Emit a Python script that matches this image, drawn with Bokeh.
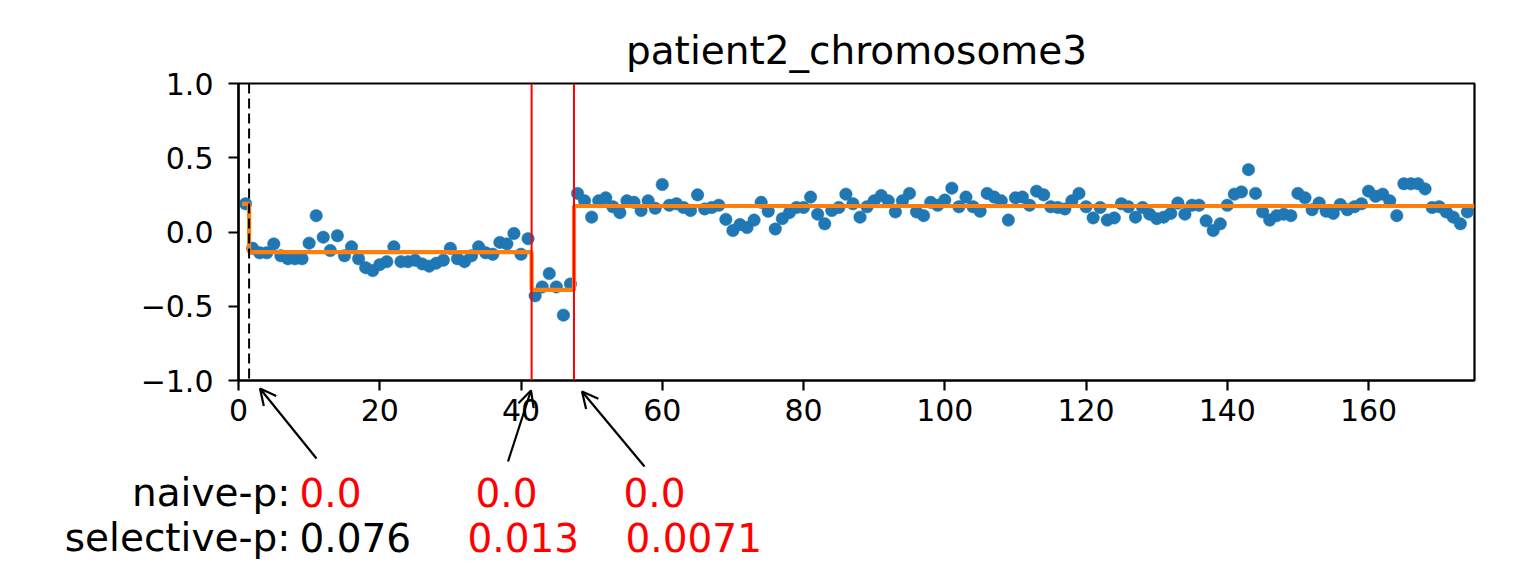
import numpy as np
from bokeh.plotting import figure
from bokeh.layouts import column
from bokeh.models import Label, Arrow, OpenHead, FixedTicker, CustomJSTickFormatter, Range1d, Span
from bokeh.embed import file_html
from bokeh.resources import INLINE

# ---------------- data ----------------
title_text = "patient2_chromosome3"
positions = list(range(1, 175))
log_ratio = [
    0.19, -0.11, -0.14, -0.14, -0.08, -0.16, -0.18, -0.18, -0.18, -0.075,
    0.11, -0.035, -0.125, -0.025, -0.16, -0.10, -0.18, -0.24, -0.26, -0.22,
    -0.20, -0.10, -0.20, -0.20, -0.19, -0.215, -0.23, -0.21, -0.19, -0.11,
    -0.18, -0.20, -0.16, -0.10, -0.14, -0.15, -0.07, -0.08, -0.01, -0.15,
    -0.045, -0.43, -0.37, -0.28, -0.37, -0.56, -0.35, 0.26, 0.21, 0.10,
    0.21, 0.23, 0.17, 0.13, 0.21, 0.20, 0.145, 0.21, 0.16, 0.32,
    0.18, 0.19, 0.165, 0.145, 0.25, 0.155, 0.165, 0.18, 0.085, 0.01,
    0.05, 0.03, 0.08, 0.20, 0.14, 0.02, 0.09, 0.13, 0.165, 0.165,
    0.235, 0.12, 0.055, 0.145, 0.165, 0.255, 0.19, 0.10, 0.17, 0.21,
    0.245, 0.21, 0.135, 0.21, 0.26, 0.135, 0.11, 0.20, 0.18, 0.215,
    0.295, 0.17, 0.235, 0.17, 0.14, 0.26, 0.235, 0.21, 0.08, 0.23,
    0.235, 0.18, 0.275, 0.25, 0.17, 0.165, 0.155, 0.21, 0.26, 0.17,
    0.095, 0.165, 0.08, 0.095, 0.19, 0.17, 0.10, 0.165, 0.12, 0.09,
    0.10, 0.125, 0.195, 0.12, 0.18, 0.18, 0.075, 0.01, 0.055, 0.18,
    0.255, 0.27, 0.42, 0.26, 0.135, 0.08, 0.11, 0.12, 0.11, 0.26,
    0.23, 0.15, 0.195, 0.14, 0.125, 0.185, 0.15, 0.17, 0.19, 0.275,
    0.24, 0.255, 0.21, 0.11, 0.325, 0.325, 0.325, 0.29, 0.165, 0.17,
    0.135, 0.10, 0.055, 0.135,
]
segment_starts = [0.5, 1.5, 41.5, 47.5]
segment_ends = [1.5, 41.5, 47.5, 175.0]
segment_means = [0.19, -0.136, -0.39, 0.175]
change_points = [1.5, 41.5, 47.5]
change_significant = [False, True, True]
x_ticks = [0, 20, 40, 60, 80, 100, 120, 140, 160]
x_tick_labels = ["0", "20", "40", "60", "80", "100", "120", "140", "160"]
y_ticks = [-1.0, -0.5, 0.0, 0.5, 1.0]
y_tick_labels = ["\u22121.0", "\u22120.5", "0.0", "0.5", "1.0"]
naive_p = ["0.0", "0.0", "0.0"]
naive_colors = ["#ff0000", "#ff0000", "#ff0000"]
selective_p = ["0.076", "0.013", "0.0071"]
selective_colors = ["#000000", "#ff0000", "#ff0000"]

# ---------------- layout ----------------
W, H = 1516, 562
L, R, T, B = 238, 1474, 83, 380   # frame edges in picture pixels
X0, X1, Y0, Y1 = 0.0, 175.0, -1.0, 1.0
FONT = "DejaVu Sans"

p = figure(width=W, height=H, output_backend="svg", toolbar_location=None,
           title=None, x_range=Range1d(X0, X1), y_range=Range1d(Y0, Y1),
           min_border_left=L, min_border_right=W - R,
           min_border_top=T, min_border_bottom=H - B)
p.frame_align = False
p.background_fill_color = "white"
p.border_fill_color = "white"
p.xgrid.visible = False
p.ygrid.visible = False
p.outline_line_color = "black"
p.outline_line_width = 2.2
p.outline_line_alpha = 1.0

for ax, tv, tl in ((p.xaxis, x_ticks, x_tick_labels), (p.yaxis, y_ticks, y_tick_labels)):
    ax.ticker = FixedTicker(ticks=tv)
    ax.formatter = CustomJSTickFormatter(args=dict(tv=tv, tl=tl),
                                         code="const i = tv.indexOf(tick); return i < 0 ? '' : tl[i];")
    ax.axis_line_width = 2.2
    ax.axis_line_color = "black"
    ax.major_tick_line_width = 2.2
    ax.major_tick_line_color = "black"
    ax.major_tick_out = 10
    ax.major_tick_in = 0
    ax.minor_tick_line_color = None
    ax.major_label_text_font = FONT
    ax.major_label_text_font_size = "30px"
    ax.major_label_text_color = "black"
p.xaxis.major_label_standoff = 8
p.yaxis.major_label_standoff = 15

# change point lines
for cp, sig in zip(change_points, change_significant):
    if sig:
        p.add_layout(Span(location=cp, dimension="height", line_color="#ff0000", line_width=2))
    else:
        p.add_layout(Span(location=cp, dimension="height", line_color="black", line_width=2,
                          line_dash="10 5"))

# data points
p.scatter(positions, log_ratio, size=12.5, fill_color="#1f77b4", line_color="#1f77b4",
          line_width=0.5)

# fitted step line
step_x, step_y = [], []
for s, e, m in zip(segment_starts, segment_ends, segment_means):
    step_x += [s, e]
    step_y += [m, m]
p.line(step_x, step_y, line_color="#ff7f0e", line_width=4.2)

# ---------------- transparent overlay for texts outside the plot frame ----------------
# Its frame covers the whole canvas; coordinates are picture pixels (y downwards).
ov = figure(width=W, height=H, output_backend="svg", toolbar_location=None, title=None,
            x_range=Range1d(0, W), y_range=Range1d(H, 0),
            min_border_left=0, min_border_right=0, min_border_top=0, min_border_bottom=0,
            x_axis_location=None, y_axis_location=None)
ov.frame_align = False
ov.xgrid.visible = False
ov.ygrid.visible = False
ov.background_fill_color = None
ov.border_fill_color = None
ov.outline_line_color = None
ov.styles = {"position": "absolute", "top": "0px", "left": "0px"}

BASE_SHIFT = -15  # alphabetic baseline correction

def add_text(x, y, text, align="left", color="black", size="39px"):
    ov.add_layout(Label(x=x, y=y + BASE_SHIFT, text=text, text_align=align,
                        text_baseline="alphabetic", text_font=FONT, text_font_size=size,
                        text_color=color))

# title
add_text(856, 65, title_text, align="center")

# p-value annotations
row1, row2 = 506.5, 551.5
add_text(290, row1, "naive-p:", align="right")
add_text(290, row2, "selective-p:", align="right")
naive_left = [299, 475, 623]
sel_left = [299, 467, 625]
for t, c, xl in zip(naive_p, naive_colors, naive_left):
    add_text(xl, row1, t, color=c)
for t, c, xl in zip(selective_p, selective_colors, sel_left):
    add_text(xl, row2, t, color=c)

# arrows from annotations to change points
arrow_tails = [(316, 458), (507.5, 461), (644, 466)]
arrow_tips = [(259.5, 388), (530.5, 390), (581.5, 391)]
for (tx, ty), (hx, hy) in zip(arrow_tails, arrow_tips):
    ov.add_layout(Arrow(x_start=tx, y_start=ty, x_end=hx, y_end=hy,
                        line_width=2.2, line_color="black",
                        end=OpenHead(size=16, line_width=2.2, line_color="black")))

layout = column(p, ov, spacing=0)
open("out.html", "w").write(file_html(layout, INLINE))
